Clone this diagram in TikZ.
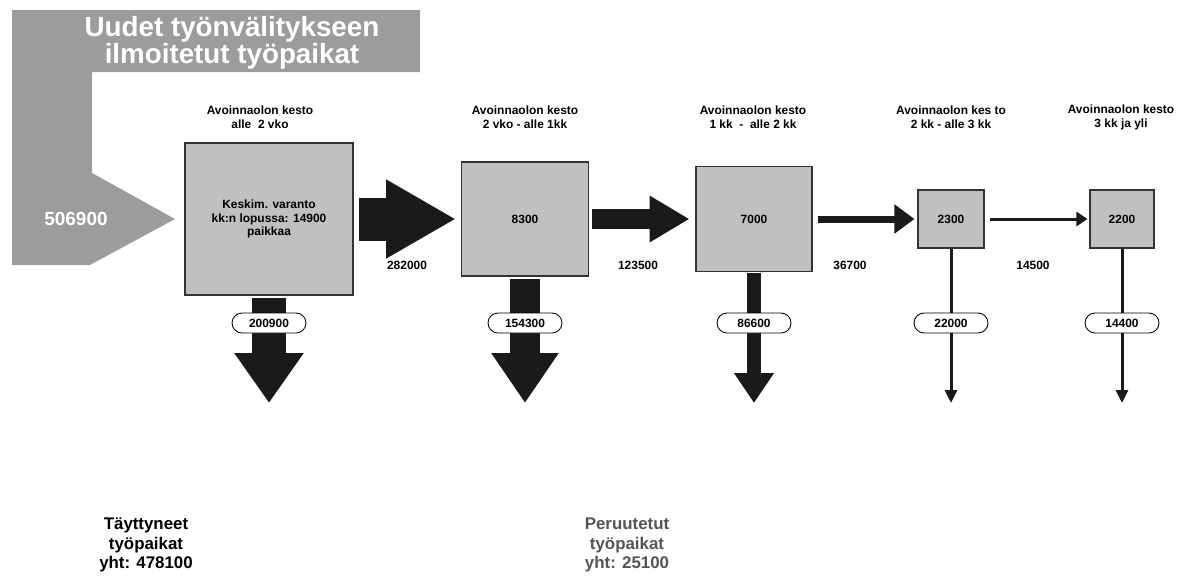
\documentclass[tikz,border=0pt]{standalone}
\usepackage{fontspec}
\setmainfont{Liberation Sans}
\usetikzlibrary{arrows.meta}

\definecolor{tausta}{HTML}{9C9C9C}
\definecolor{harmaa}{HTML}{C0C0C0}
\definecolor{nuoli}{HTML}{1A1A1A}
\definecolor{peruttu}{HTML}{555555}

\newcommand{\pieni}{\bfseries\fontsize{6.8}{7.9}\selectfont}
\newcommand{\iso}{\bfseries\fontsize{9.6}{11.3}\selectfont}

\begin{document}
\begin{tikzpicture}[x=0.02cm, y=-0.02cm,
    laatikko/.style={draw=black!80, fill=harmaa, line width=0.6pt, inner sep=0pt, align=center, font=\pieni},
    otsikko/.style={align=center, font=\pieni},
    luku/.style={font=\pieni},
    pilleri/.style={draw=black, fill=white, line width=0.5pt, rounded corners=0.2cm, minimum width=1.48cm, minimum height=0.4cm, inner sep=0pt, font=\pieni},
    virta/.style={draw=nuoli, line width=#1}]
    \useasboundingbox (0,0) rectangle (1179,575);

    % Uudet paikat
    \fill[tausta] (12,10) -- (420,10) -- (420,72) -- (92,72) -- (92,173) -- (175,219) -- (90,265) -- (12,265) -- cycle;
    \node[text=white, align=center, font=\bfseries\fontsize{15.8}{15.6}\selectfont] (uudet) at (232,43) {Uudet työnvälitykseen\\ilmoitetut työpaikat};
    \node[text=white, font=\bfseries\fontsize{10.8}{12}\selectfont] (tulo) at (76,219) {506900};

    % Laatikot
    \node[laatikko, minimum width=3.36cm, minimum height=3.04cm] (b1) at (269,219) {Keskim. varanto\\kk:n lopussa: 14900\\paikkaa};
    \node[laatikko, minimum width=2.54cm, minimum height=2.28cm] (b2) at (525,219) {8300};
    \node[laatikko, minimum width=2.32cm, minimum height=2.1cm] (b3) at (754,219) {7000};
    \node[laatikko, minimum width=1.32cm, minimum height=1.16cm] (b4) at (951,219) {2300};
    \node[laatikko, minimum width=1.28cm, minimum height=1.16cm] (b5) at (1122,219) {2200};

    % Otsikot
    \node[otsikko] (o1) at (260,117) {Avoinnaolon kesto\\alle\ \ 2 vko};
    \node[otsikko] (o2) at (525,117) {Avoinnaolon kesto\\2 vko - alle 1kk};
    \node[otsikko] (o3) at (753,117) {Avoinnaolon kesto\\1 kk\ \ -\ \ alle 2 kk};
    \node[otsikko] (o4) at (951,117) {Avoinnaolon kes to\\2 kk - alle 3 kk};
    \node[otsikko] (o5) at (1121,117) {Avoinnaolon kesto\\3 kk ja yli};

    % Siirtymat
    \draw[virta=0.86cm, -{Triangle[length=1.4cm, width=1.48cm]}, shorten <=0.1cm, shorten >=0.1cm] (b1.east) -- (b2.west);
    \draw[virta=0.4cm, -{Triangle[length=0.8cm, width=0.88cm]}, shorten <=0.06cm, shorten >=0.12cm] (b2.east) -- (b3.west);
    \draw[virta=0.14cm, -{Triangle[length=0.4cm, width=0.56cm]}, shorten <=0.1cm, shorten >=0.06cm] (b3.east) -- (b4.west);
    \draw[virta=0.06cm, -{Triangle[length=0.22cm, width=0.28cm]}, shorten <=0.1cm, shorten >=0.04cm] (b4.east) -- (b5.west);
    \node[luku] (s1) at (407,265) {282000};
    \node[luku] (s2) at (638,265) {123500};
    \node[luku] (s3) at (850,265) {36700};
    \node[luku] (s4) at (1033,265) {14500};

    % Poistuvat
    \coordinate (t1) at (269,403);
    \coordinate (t2) at (525,403);
    \coordinate (t3) at (754,403);
    \coordinate (t4) at (951,403);
    \coordinate (t5) at (1122,403);
    \coordinate (rivi) at (0,323);
    \draw[virta=0.68cm, -{Triangle[length=1cm, width=1.32cm]}, shorten <=0.04cm] (b1.south) -- (t1);
    \draw[virta=0.6cm, -{Triangle[length=1cm, width=1.28cm]}, shorten <=0.04cm] (b2.south) -- (t2);
    \draw[virta=0.28cm, -{Triangle[length=0.6cm, width=0.76cm]}, shorten <=0.02cm] (b3.south) -- (t3);
    \draw[virta=0.06cm, -{Triangle[length=0.26cm, width=0.24cm]}] (b4.south) -- (t4);
    \draw[virta=0.06cm, -{Triangle[length=0.26cm, width=0.24cm]}] (b5.south) -- (t5);
    \node[pilleri] (p1) at (b1.south |- rivi) {200900};
    \node[pilleri] (p2) at (b2.south |- rivi) {154300};
    \node[pilleri] (p3) at (b3.south |- rivi) {86600};
    \node[pilleri] (p4) at (b4.south |- rivi) {22000};
    \node[pilleri] (p5) at (b5.south |- rivi) {14400};

    % Yhteensa
    \node[align=center, font=\iso] (taytt) at (146,545) {Täyttyneet\\työpaikat\\yht: 478100};
    \node[align=center, font=\iso, text=peruttu] (perut) at (627,545) {Peruutetut\\työpaikat\\yht: 25100};
\end{tikzpicture}
\end{document}
